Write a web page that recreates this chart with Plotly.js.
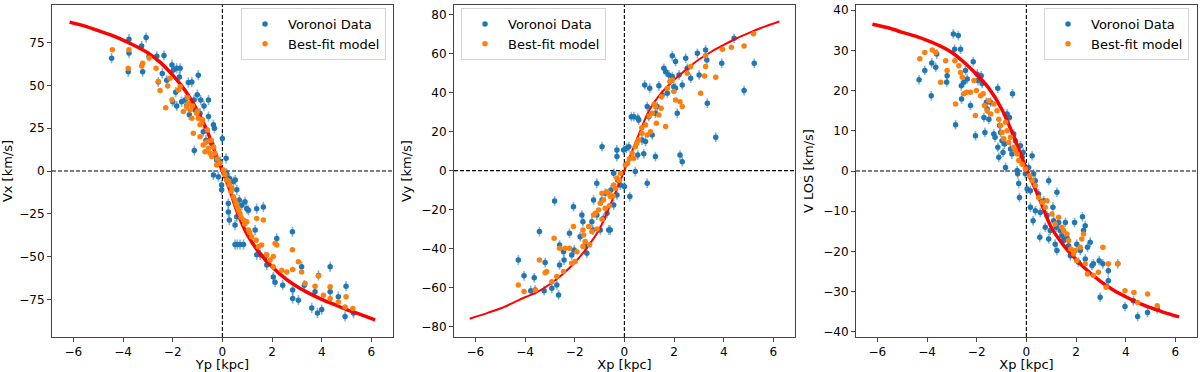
<!DOCTYPE html>
<html>
<head>
<meta charset="utf-8">
<script src="https://cdn.plot.ly/plotly-3.0.1.min.js"></script>
<style>
  html, body { margin: 0; padding: 0; background: #fff; }
  #chart { width: 1200px; height: 372px; }
</style>
</head>
<body>
<div id="chart"></div>
<script>
// panel 1: Vx vs Yp  -- [x, y] pairs
const vxVoronoi = [
  [-4.46,65.9],[-3.76,77],[-3.76,69],[-3.79,58],[-3.25,73],[-3.21,58],[-3.07,78],[-2.95,67],
  [-2.64,67],[-2.35,67.5],[-2.58,52],[-2.42,57],[-2.24,53],[-2.03,62],[-1.97,59],[-1.84,60],
  [-1.70,60],[-1.73,55],[-1.88,46],[-2.0,40.5],[-1.64,40.5],[-1.50,41.5],[-1.84,38],[-1.44,38],
  [-1.37,51.7],[-1.23,52],[-0.97,56],[-1.01,44.5],[-1.14,41.5],[-0.87,41.5],[-0.56,41.5],[-0.74,38],
  [-1.10,35.7],[-0.90,33.7],[-1.33,32.8],[-0.56,31.8],[-1.13,12],[-0.36,27],[-0.32,25],[0,19],
  [-0.77,23],[-0.66,18],[-0.43,16],[-0.30,9],[-0.23,6.4],[-0.09,5.5],[0.15,7.4],[-0.36,-2.3],
  [-0.16,-3.3],[-0.03,-8.2],[-0.03,-11],[0.17,-1.4],[0.28,-4.3],[0.44,-6.2],[0.52,-5.3],[0.24,-19],
  [0.24,-24],[0.28,-28.7],[0.58,-11],[0.68,-17],[0.78,-20],[0.91,-18],[0.98,-22],[1.05,-23],
  [0.51,-31.6],[0.58,-26.7],[0.60,-43],[0.71,-43],[0.85,-43],[0.51,-43],[1.38,-22],[1.65,-21],
  [1.32,-34.5],[1.38,-49],[1.52,-49],[1.79,-55],[1.72,-50],[2.19,-39.4],[2.05,-62],[2.12,-65],
  [2.43,-66.7],[2.82,-35.5],[2.83,-69.6],[2.83,-74.5],[3.06,-75.5],[3.19,-56],[3.30,-66.7],[3.60,-80],
  [3.87,-61],[3.73,-70.6],[3.83,-83],[4.0,-81],[4.34,-56],[4.34,-70.6],[4.67,-73.5],[4.94,-85],
  [4.98,-67.3],[5.28,-83]
];
const vxModel = [
  [-4.43,70.8],[-3.76,70.8],[-3.79,60],[-3.21,63],[-3.25,61.4],[-2.95,66],[-2.67,60],[-2.58,52.3],
  [-2.51,47],[-2.28,37],[-2.20,49.7],[-2.11,54.2],[-2.03,41.5],[-1.77,47.4],[-1.70,49.3],[-1.57,34.7],
  [-1.44,37.6],[-1.37,39.6],[-1.30,35.7],[-1.23,30.8],[-1.17,22],[-1.03,33.7],[-0.97,30.8],[-0.90,27],
  [-0.83,28],[-0.90,20],[-0.77,15.2],[-0.70,11.3],[-0.63,17],[-0.56,13.3],[-0.50,10.3],[-0.43,8.4],
  [-0.30,10.3],[-0.23,3.5],[-0.09,4.5],[0.04,0.6],[0.17,-5.3],[0.28,-8.2],[0.38,-10],[0.44,-15],
  [0.51,-17],[0.60,-21],[0.71,-24.8],[0.85,-28.7],[0.98,-29.6],[1.05,-34.5],[1.18,-38.4],[1.36,-40.4],
  [1.38,-27.7],[1.65,-28.7],[1.45,-44.3],[1.58,-43.3],[1.79,-49],[1.92,-52],[2.05,-50],[2.12,-42.3],
  [2.19,-43.3],[2.05,-56],[2.39,-58],[2.59,-59],[2.82,-46],[2.83,-57.5],[3.06,-53],[3.19,-59],
  [3.33,-65.7],[3.87,-61.4],[3.73,-67.3],[4.07,-72.6],[4.34,-67.7],[4.34,-74.5],[4.67,-76.5],[4.98,-73.5],
  [4.94,-79.4],[5.25,-80.4],
  [-1.4,43],[-1.2,38],[-1.0,35],[-0.8,30],[-0.6,24],[-0.45,18],[-0.35,14],[-0.2,7],
  [0.1,-2],[0.25,-6],[0.35,-12],[0.55,-19],[0.65,-23],[0.75,-27],[0.9,-31],[1.1,-36]
];
const vxCurveX = [-6.15,-5.5,-5,-4.5,-4,-3.5,-3,-2.5,-2,-1.5,-1,-0.6,-0.3,0,0.3,0.6,1,1.5,2,2.5,3,3.5,4,4.5,5,5.5,6.15];
const vxCurveY = [87,84.5,82,79.5,76.5,73,69,63.5,56,47,35,23,11,0,-11,-24,-37,-48,-56,-62.5,-67.5,-71.5,-75,-78,-81,-83.5,-87];

// panel 2: Vy vs Xp
const vyVoronoi = [
  [-4.27,-45.9],[-4.04,-54],[-3.63,-55],[-3.42,-31.3],[-3.77,-61.6],[-3.59,-61.3],[-3.23,-61.6],[-3.19,-47.2],
  [-2.81,-15.6],[-2.92,-60.4],[-2.72,-58.7],[-2.65,-63.8],[-2.61,-48.4],[-2.61,-38.2],[-2.43,-45.9],[-2.45,-41.6],
  [-2.21,-32.2],[-2.12,-43.3],[-2.05,-18.5],[-2.02,-40.7],[-1.71,-22.8],[-1.67,-26.2],[-1.78,-33.9],[-1.58,-38.2],
  [-1.51,-42.4],[-1.31,-26.2],[-1.27,-30.5],[-1.24,-15.1],[-1.11,-6.5],[-1.11,-22.8],[-0.97,-30.5],[-0.90,-15.1],
  [-0.84,-24.5],[-0.77,-11.6],[-0.70,-21.9],[-0.63,-30.5],[-0.57,-30.5],[-0.54,-9.9],[-0.43,-17.6],[-0.43,-1.4],
  [-0.30,10.6],[-0.30,7.2],[-0.30,-12.5],[-0.27,-4.8],[-0.90,12.3],[-0.16,-7.4],[-0.03,10.6],[0,-8.2],
  [0.08,11.5],[0.18,12.3],[0.22,-13.3],[0.28,27.7],[0.38,27.7],[0.44,-0.5],[0.54,26.9],[0.58,26],
  [0.54,8],[0.71,15.7],[0.78,8.6],[0.82,44],[0.85,14.9],[0.92,-6.5],[0.92,32.9],[0.98,27.7],
  [1.02,42.3],[1.12,18.3],[1.25,7.2],[1.25,29.4],[1.32,32.9],[1.39,43.5],[1.52,38.8],[1.59,52.5],
  [1.66,50.8],[1.73,39.7],[1.79,49.1],[1.93,58.9],[1.93,48.3],[1.99,43.1],[2.06,56],[2.06,42.3],
  [2.13,29.4],[2.24,8],[2.33,4.6],[2.20,49.1],[2.33,44],[2.47,57.7],[2.53,52.5],[2.67,47.4],
  [2.94,60.2],[3.01,49.1],[3.27,61.9],[3.32,56.8],[3.34,34.6],[3.68,17.1],[3.92,55.1],[4.42,67.9],
  [4.82,41.1],[5.23,55.1]
];
const vyModel = [
  [-4.27,-58.7],[-4.04,-62.1],[-3.59,-61.3],[-3.42,-45.9],[-3.19,-52.4],[-3.13,-51.8],[-2.92,-57],[-2.83,-34.7],
  [-2.72,-54.4],[-2.61,-39.9],[-2.45,-51.8],[-2.39,-39.9],[-2.21,-39.9],[-2.12,-47.6],[-2.05,-28.7],[-1.98,-46.7],
  [-1.91,-41.6],[-1.67,-30.5],[-1.64,-33],[-1.67,-39],[-1.58,-36.4],[-1.44,-28.7],[-1.31,-31.3],[-1.24,-22.8],
  [-1.17,-21.9],[-1.04,-20.2],[-0.97,-16.8],[-0.90,-11.6],[-0.84,-15.1],[-0.77,-19.3],[-0.70,-10.8],[-0.63,-11.6],
  [-0.57,-13.3],[-0.43,-7.4],[-0.36,-9.1],[-0.30,-3.9],[-0.16,-1.4],[0.04,2.9],[0.13,3.8],[0.31,8.9],
  [0.38,6.3],[0.44,12.3],[0.58,15.7],[0.71,19.2],[0.85,23.4],[0.92,18.3],[1.05,20],[1.12,29.4],
  [1.25,32.9],[1.29,24.3],[1.39,28.6],[1.48,32],[1.66,22.6],[1.73,42.3],[1.83,45.7],[1.93,46.5],
  [1.99,40.6],[2.06,36.3],[2.24,35.4],[2.33,32.9],[2.53,50],[2.67,53.4],[3.07,39.7],[3.23,48.6],
  [3.27,53.4],[3.27,58.9],[3.68,47.9],[3.95,62.3],[4.31,63.3],[4.82,64],[5.20,70.2],
  [-1.4,-38],[-1.1,-30],[-0.9,-25],[-0.6,-18],[-0.45,-13],[-0.2,-5],[0.2,6],[0.5,14],
  [0.7,22],[1.0,28],[1.2,34],[1.5,38]
];
const vyCurveX = [-6.23,-5.5,-5,-4.5,-4,-3.5,-3,-2.5,-2,-1.5,-1,-0.5,0,0.5,1,1.5,2,2.5,3,3.5,4,4.5,5,5.5,6.24];
const vyCurveY = [-76,-73,-70.8,-68,-65,-62.2,-58.3,-53.3,-47.3,-39.5,-30,-15.5,0,16,31,40,46.5,52,57,61,64.5,67.8,70.6,73.2,76.5];

// panel 3: V LOS vs Xp
const vlosVoronoi = [
  [-4.32,22.7],[-4.09,25],[-3.83,18.7],[-3.81,26.9],[-3.65,25.8],[-3.61,29.1],[-3.21,22.1],[-3.19,23.7],
  [-2.94,34.1],[-2.89,30.3],[-2.85,11.5],[-2.74,33.7],[-2.65,30.3],[-2.62,21.2],[-2.61,17.9],[-2.52,22.1],
  [-2.45,25],[-2.38,22.9],[-2.25,16.3],[-2.14,27.2],[-2.05,8.8],[-1.98,24.1],[-1.95,22.5],[-1.82,23.7],
  [-1.78,21.8],[-1.71,13.3],[-1.67,9.6],[-1.61,17.1],[-1.58,15.4],[-1.51,12.9],[-1.44,17.1],[-1.31,9.2],
  [-1.26,8.4],[-1.15,20.6],[-1.15,5.9],[-1.11,3.4],[-1.08,11.3],[-1.04,9.6],[-0.98,7.5],[-0.94,4.6],
  [-0.88,6.7],[-0.84,0.9],[-0.78,14.2],[-0.68,13.3],[-0.64,5.5],[-0.58,4.2],[-0.56,19.2],[-0.51,9.2],
  [-0.44,7.5],[-0.37,0.1],[-0.35,-0.7],[-0.31,-3.1],[-0.28,-6.6],[-0.24,6.3],[-0.17,3.4],[-0.13,4.6],
  [-0.04,-0.7],[0.03,-4.5],[0.09,0.9],[0.16,-4.9],[0.23,3.8],[0.29,-0.7],[0.36,-2.4],[0.16,-9],
  [0.27,-12.4],[0.36,-9.9],[0.49,-5.7],[0.54,-16.5],[0.56,-10.3],[0.70,-7.4],[0.76,-14],[0.83,-11.1],
  [0.90,-2.4],[0.90,-16.9],[0.96,-14.8],[1.07,-9],[1.10,-12.4],[1.16,-18.2],[1.20,-14],[1.23,-5.3],
  [1.23,-19.8],[1.30,-12.8],[1.36,-14.8],[1.43,-16.1],[1.50,-17.3],[1.57,-12.8],[1.63,-16.5],[1.70,-18.6],
  [1.77,-21.1],[1.94,-12.8],[2.03,-18.2],[2.10,-22.7],[2.17,-19.8],[2.26,-11.4],[2.30,-14.8],[2.37,-13.6],
  [2.37,-21.9],[2.46,-19],[2.57,-17.7],[2.64,-23.5],[2.70,-23.1],[2.93,-22.3],[2.97,-31.4],[3.08,-23.1],
  [3.30,-27.3],[3.30,-24.8],[3.68,-23.1],[3.97,-33.7],[4.31,-32.3],[4.48,-36.2],[4.88,-35.2],[5.27,-34.3]
];
const vlosModel = [
  [-4.29,27.9],[-4.09,29.5],[-3.79,30.1],[-3.65,29.5],[-3.45,22.1],[-3.25,27.4],[-3.19,25],[-2.88,27.4],
  [-2.85,16.7],[-2.72,26.2],[-2.65,24.5],[-2.58,23.3],[-2.52,19.2],[-2.41,19.6],[-2.25,19.6],[-2.11,22.5],
  [-2.05,13.8],[-2.01,20],[-1.85,18.7],[-1.74,19.2],[-1.69,16.3],[-1.58,15],[-1.51,17.5],[-1.44,14.2],
  [-1.31,16.7],[-1.18,15],[-1.11,12.9],[-1.04,11.3],[-0.98,9.6],[-0.91,8],[-0.84,12.1],[-0.78,10],
  [-0.71,7.1],[-0.64,8.4],[-0.51,5.9],[-0.44,5.1],[-0.37,4.2],[-0.31,2.6],[-0.17,1.7],[-0.04,0.5],
  [0.13,-1.2],[0.23,-2.4],[0.36,-3.6],[0.49,-6.6],[0.63,-7.8],[0.76,-9],[0.83,-7.4],[1.03,-10.7],
  [1.16,-13.2],[1.30,-11.5],[1.43,-14],[1.50,-14.8],[1.63,-15.7],[1.70,-17.3],[1.79,-19.4],[1.90,-20.6],
  [1.97,-19.8],[2.03,-22.3],[2.17,-19],[2.23,-16.9],[2.30,-15.7],[2.37,-23.1],[2.46,-25.6],[2.70,-26],
  [2.90,-25.2],[3.08,-19],[3.21,-28.9],[3.30,-23.1],[3.68,-23.1],[3.97,-29.8],[4.33,-30.2],[4.48,-32.7],
  [4.88,-30.6],[5.27,-33.5]
];
const vlosCurveX = [-6.2,-5.5,-5,-4.5,-4,-3.5,-3,-2.5,-2,-1.5,-1,-0.5,0,0.5,1,1.5,2,2.5,3,3.5,4,4.5,5,5.5,6.15];
const vlosCurveY = [36.5,35.5,34.5,33.6,32.5,31.2,29.5,27,24,20.5,15.5,8.5,0.5,-6.5,-14,-18.5,-22,-25,-27.5,-29.6,-31.3,-32.8,-34,-35.1,-36.3];

const xTickVals = [-6, -4, -2, 0, 2, 4, 6];
const panels = [
  { ax: "", title: "Yp [kpc]", ytitle: "Vx [km/s]", data: vxVoronoi, model: vxModel,
    cx: vxCurveX, cy: vxCurveY, err: 3, lw: 3.5, yrange: [-97, 97], yticks: [-75, -50, -25, 0, 25, 50, 75],
    domain: [52 / 1200, 393 / 1200], legend: "legend" },
  { ax: "2", title: "Xp [kpc]", ytitle: "Vy [km/s]", data: vyVoronoi, model: vyModel,
    cx: vyCurveX, cy: vyCurveY, err: 2.5, lw: 2, yrange: [-85.4, 85], yticks: [-80, -60, -40, -20, 0, 20, 40, 60, 80],
    domain: [454 / 1200, 795 / 1200], legend: "legend2" },
  { ax: "3", title: "Xp [kpc]", ytitle: "V LOS [km/s]", data: vlosVoronoi, model: vlosModel,
    cx: vlosCurveX, cy: vlosCurveY, err: 1.2, lw: 3.5, yrange: [-41.3, 41.3], yticks: [-40, -30, -20, -10, 0, 10, 20, 30, 40],
    domain: [856 / 1200, 1197 / 1200], legend: "legend3" },
];

const blue = "#1f77b4";
const orange = "#ff7f0e";
const traces = [];
const layout = {
  width: 1200,
  height: 372,
  margin: { l: 0, r: 0, t: 5, b: 35 },
  paper_bgcolor: "#fff",
  plot_bgcolor: "#fff",
  font: { family: "DejaVu Sans", size: 13, color: "#000" },
  shapes: [],
};

panels.forEach((p) => {
  const xa = "x" + p.ax;
  const ya = "y" + p.ax;
  traces.push({
    type: "scatter", mode: "markers", xaxis: xa, yaxis: ya,
    x: p.data.map((d) => d[0]), y: p.data.map((d) => d[1]),
    name: "Voronoi Data", legend: p.legend,
    marker: { color: blue, size: 5.5 },
    error_y: { type: "constant", value: p.err, color: "rgba(31,119,180,0.55)", thickness: 1.6, width: 0 },
    error_x: { type: "constant", value: 0.07, color: "rgba(31,119,180,0.55)", thickness: 1.6, width: 0 },
  });
  traces.push({
    type: "scatter", mode: "lines", xaxis: xa, yaxis: ya,
    x: p.cx, y: p.cy, showlegend: false, hoverinfo: "skip",
    line: { color: "#ff0000", width: p.lw, shape: "spline", smoothing: 0.8 },
  });
  traces.push({
    type: "scatter", mode: "markers", xaxis: xa, yaxis: ya,
    x: p.model.map((d) => d[0]), y: p.model.map((d) => d[1]),
    name: "Best-fit model", legend: p.legend,
    marker: { color: orange, size: 5.5 },
  });

  const axisBase = {
    showline: true, mirror: true, linecolor: "#444", linewidth: 1,
    showgrid: false, zeroline: false, ticks: "outside", ticklen: 4, tickcolor: "#444",
    tickfont: { size: 12, color: "#000" },
  };
  layout["xaxis" + p.ax] = Object.assign({}, axisBase, {
    domain: p.domain, anchor: ya, range: [-6.86, 6.87], tickvals: xTickVals,
    title: { text: p.title, font: { size: 13 }, standoff: 3 },
  });
  layout["yaxis" + p.ax] = Object.assign({}, axisBase, {
    domain: [0, 1], anchor: xa, range: p.yrange, tickvals: p.yticks,
    title: { text: p.ytitle, font: { size: 13 }, standoff: 6 },
  });

  const dash = { color: "#000", width: 1.1, dash: "4px,2px" };
  layout.shapes.push({ type: "line", layer: "below", xref: xa, yref: ya + " domain", x0: 0, x1: 0, y0: 0, y1: 1, line: dash });
  layout.shapes.push({ type: "line", layer: "below", xref: xa + " domain", yref: ya, x0: 0, x1: 1, y0: 0, y1: 0, line: dash });
});

const legendBase = {
  bgcolor: "rgba(255,255,255,0.8)", bordercolor: "#d4d4d4", borderwidth: 1,
  font: { size: 13 }, yanchor: "top", y: 0.991, tracegroupgap: 0, itemwidth: 36,
};
layout.legend = Object.assign({}, legendBase, { x: 386 / 1200, xanchor: "right" });
layout.legend2 = Object.assign({}, legendBase, { x: 461 / 1200, xanchor: "left" });
layout.legend3 = Object.assign({}, legendBase, { x: 1189 / 1200, xanchor: "right" });

Plotly.newPlot("chart", traces, layout, { displayModeBar: false, staticPlot: true });
</script>
</body>
</html>
